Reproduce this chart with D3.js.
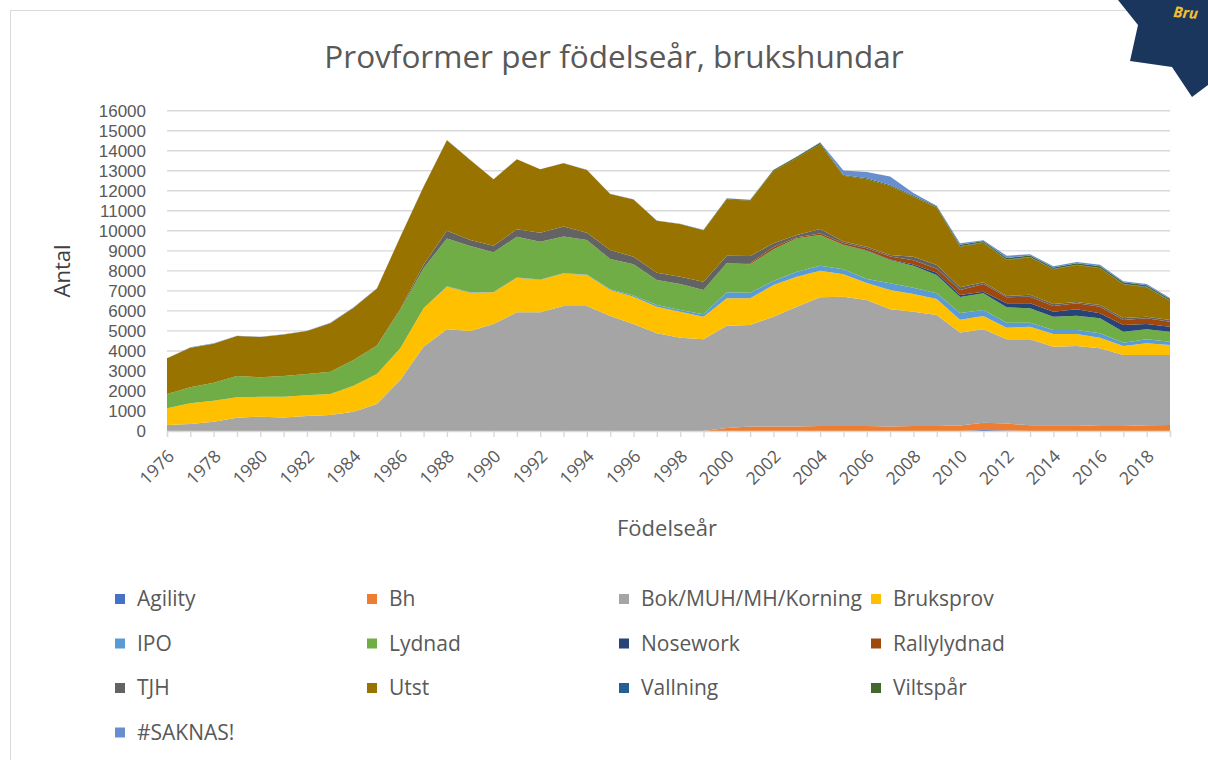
<!DOCTYPE html>
<html>
<head>
<meta charset="utf-8">
<script src="https://cdn.jsdelivr.net/npm/d3@7"></script>
<style>
  html, body { margin: 0; padding: 0; background: #ffffff; }
  svg { display: block; }
  text { font-family: "Open Sans", "Noto Sans", sans-serif; }
</style>
</head>
<body>
<svg id="chart" width="1208" height="760"></svg>
<script>
// ---------------- DATA ----------------
const years = [1976,1977,1978,1979,1980,1981,1982,1983,1984,1985,1986,1987,1988,1989,1990,1991,1992,1993,1994,1995,1996,1997,1998,1999,2000,2001,2002,2003,2004,2005,2006,2007,2008,2009,2010,2011,2012,2013,2014,2015,2016,2017,2018,2019];

const seriesNames = ["Agility","Bh","Bok/MUH/MH/Korning","Bruksprov","IPO","Lydnad","Nosework","Rallylydnad","TJH","Utst","Vallning","Viltspår","#SAKNAS!"];

const agility   = [0,0,0,0,0,0,0,0,0,0,0,0,0,0,0,0,0,0,0,0,0,0,0,0,0,0,0,0,0,0,0,0,0,0,0,50,20,0,0,0,0,0,0,0];
const bh        = [0,0,0,0,0,0,0,0,0,0,0,0,0,0,0,0,0,0,0,0,0,0,0,0,150,220,220,230,250,250,250,230,250,250,280,365,350,285,285,285,250,250,285,300];
const bok       = [300,350,465,665,715,680,750,800,965,1350,2550,4210,5080,4995,5345,5930,5930,6245,6245,5745,5345,4880,4660,4580,5110,5075,5490,5980,6430,6460,6295,5850,5710,5545,4640,4665,4210,4295,3925,3960,3880,3545,3510,3495];
const bruksprov = [835,1030,1045,1015,995,1030,1030,1050,1295,1500,1580,1920,2130,1915,1585,1720,1615,1620,1545,1295,1365,1330,1300,1130,1370,1335,1580,1500,1325,1120,845,960,880,800,640,665,580,630,635,600,530,450,585,500];
const ipo       = [0,0,0,0,0,0,0,0,0,0,0,0,20,15,15,20,20,20,30,40,60,90,90,120,300,280,200,250,250,245,200,335,320,285,335,300,250,200,200,200,220,165,200,165];
const lydnad    = [715,800,900,1070,970,1040,1070,1110,1290,1395,1910,2000,2390,2315,1980,2035,1890,1835,1720,1510,1555,1240,1290,1210,1445,1415,1585,1665,1535,1215,1415,1165,1095,910,800,835,770,720,665,715,750,550,500,500];
const nosework  = [0,0,0,0,0,0,0,0,0,0,0,0,0,0,0,0,0,0,0,0,0,0,0,0,0,0,0,0,0,10,20,30,60,110,100,80,200,250,250,320,250,335,265,250];
const rally     = [0,0,0,0,0,0,0,0,0,0,0,0,0,0,0,0,0,0,0,0,0,0,0,0,20,60,100,50,80,90,100,150,220,200,245,380,300,330,285,300,330,250,285,250];
const tjh       = [0,0,0,0,0,0,0,0,0,20,60,170,385,300,330,370,450,500,365,450,380,365,370,420,360,355,200,115,220,75,80,70,170,190,140,90,65,100,100,65,85,100,80,85];
const utst      = [1780,1980,1950,2000,2020,2070,2150,2420,2610,2850,3590,3900,4515,4000,3315,3495,3165,3160,3135,2800,2865,2600,2630,2560,2825,2760,3615,3850,4230,3285,3375,3450,2995,2880,2025,1975,1795,1865,1730,1845,1830,1680,1470,950];
const vallning  = [0,0,0,0,0,0,0,0,0,0,0,0,0,0,0,0,0,0,0,0,0,0,0,0,0,0,0,0,0,0,0,0,10,10,20,20,20,20,20,20,20,20,20,20];
const viltspar  = [0,0,0,0,0,0,0,0,0,0,0,0,0,0,0,0,0,0,0,0,0,0,0,20,40,40,50,60,80,40,40,50,50,50,80,60,80,70,70,70,80,80,80,80];
const saknas    = [0,20,20,10,10,10,10,30,20,15,10,10,15,10,10,10,10,10,10,10,10,10,10,10,10,10,10,10,20,220,320,420,130,20,70,40,120,60,60,65,85,55,65,55];

const yTicks = [0,1000,2000,3000,4000,5000,6000,7000,8000,9000,10000,11000,12000,13000,14000,15000,16000];
const xLabelYears = [1976,1978,1980,1982,1984,1986,1988,1990,1992,1994,1996,1998,2000,2002,2004,2006,2008,2010,2012,2014,2016,2018];

const colors = ["#4472C4","#ED7D31","#A5A5A5","#FFC000","#5B9BD5","#70AD47","#264478","#9E480E","#636363","#997300","#255E91","#43682B","#698ED0"];

const titleText = "Provformer per födelseår, brukshundar";
const yTitle = "Antal";
const xTitle = "Födelseår";

// ---------------- BUILD ----------------
const seriesValues = [agility,bh,bok,bruksprov,ipo,lydnad,nosework,rally,tjh,utst,vallning,viltspar,saknas];
const table = years.map((y,i) => {
  const row = {year: y};
  seriesNames.forEach((n,k) => row[n] = seriesValues[k][i]);
  return row;
});

const svg = d3.select("#chart");

// chart frame
svg.append("rect").attr("x",10.5).attr("y",10.5).attr("width",1400).attr("height",1000)
  .attr("fill","#fff").attr("stroke","#d9d9d9").attr("stroke-width",1);

const x = d3.scaleLinear().domain([1976,2019]).range([167,1170]);
const y = d3.scaleLinear().domain([0,16000]).range([431,110.7]);

// gridlines
svg.append("g").selectAll("line").data(yTicks.filter(d => d>0)).join("line")
  .attr("x1",167).attr("x2",1170)
  .attr("y1",d=>y(d)).attr("y2",d=>y(d))
  .attr("stroke","#d9d9d9").attr("stroke-width",1.4);

// stacked areas
const stack = d3.stack().keys(seriesNames);
const layers = stack(table);
const area = d3.area()
  .x(d => x(d.data.year))
  .y0(d => y(d[0]))
  .y1(d => y(d[1]));

svg.append("g").selectAll("path").data(layers).join("path")
  .attr("d", area)
  .attr("fill", (d,i) => colors[i]);

// x axis
const xAxis = d3.axisBottom(x).tickValues(years).tickSize(6).tickFormat("");
const gx = svg.append("g").attr("transform","translate(0,431)").call(xAxis);
gx.select(".domain").attr("stroke","#d9d9d9").attr("stroke-width",1.4);
gx.selectAll(".tick line").attr("stroke","#d9d9d9").attr("stroke-width",1.4);

svg.append("g").selectAll("text").data(xLabelYears).join("text")
  .attr("transform", d => `translate(${x(d)+4},${453}) rotate(-45)`)
  .attr("text-anchor","end")
  .attr("dy","0.35em")
  .attr("font-size",17.5)
  .attr("fill","#595959")
  .text(d => d);

// y axis labels
const yAxis = d3.axisLeft(y).tickValues(yTicks).tickSize(0).tickPadding(0).tickFormat(d3.format("d"));
const gy = svg.append("g").attr("transform","translate(146,0)").call(yAxis);
gy.select(".domain").remove();
gy.selectAll("text").attr("font-size",17).attr("fill","#595959")
  .style("font-family","\"Liberation Sans\", Arial, sans-serif");

// titles
svg.append("text").attr("x",614).attr("y",68).attr("text-anchor","middle")
  .attr("font-size",31.5).attr("fill","#595959").text(titleText);

svg.append("text").attr("transform","translate(70,271) rotate(-90)")
  .attr("text-anchor","middle").attr("font-size",22).attr("fill","#404040").text(yTitle);

svg.append("text").attr("x",667).attr("y",536).attr("text-anchor","middle")
  .attr("font-size",22).attr("fill","#595959").text(xTitle);

// legend
const legend = svg.append("g");
seriesNames.forEach((n,i) => {
  const col = i % 4, row = Math.floor(i/4);
  const lx = 115 + col*252, ly = 599 + row*44.5;
  legend.append("rect").attr("x",lx).attr("y",ly-5).attr("width",10).attr("height",10).attr("fill",colors[i]);
  legend.append("text").attr("x",lx+22).attr("y",ly).attr("dy","0.35em")
    .attr("font-size",21).attr("fill","#595959").text(n);
});

// decorative badge in the corner
svg.append("polygon")
  .attr("points","1118,0 1138,25 1130,61 1172,67 1192,97 1208,85 1208,0")
  .attr("fill","#1b365d");
svg.append("text").attr("transform","translate(1173,17) rotate(5)")
  .attr("font-size",15).attr("font-weight","bold").attr("fill","#f2c12e")
  .attr("font-style","italic").text("Bru");
</script>
</body>
</html>
